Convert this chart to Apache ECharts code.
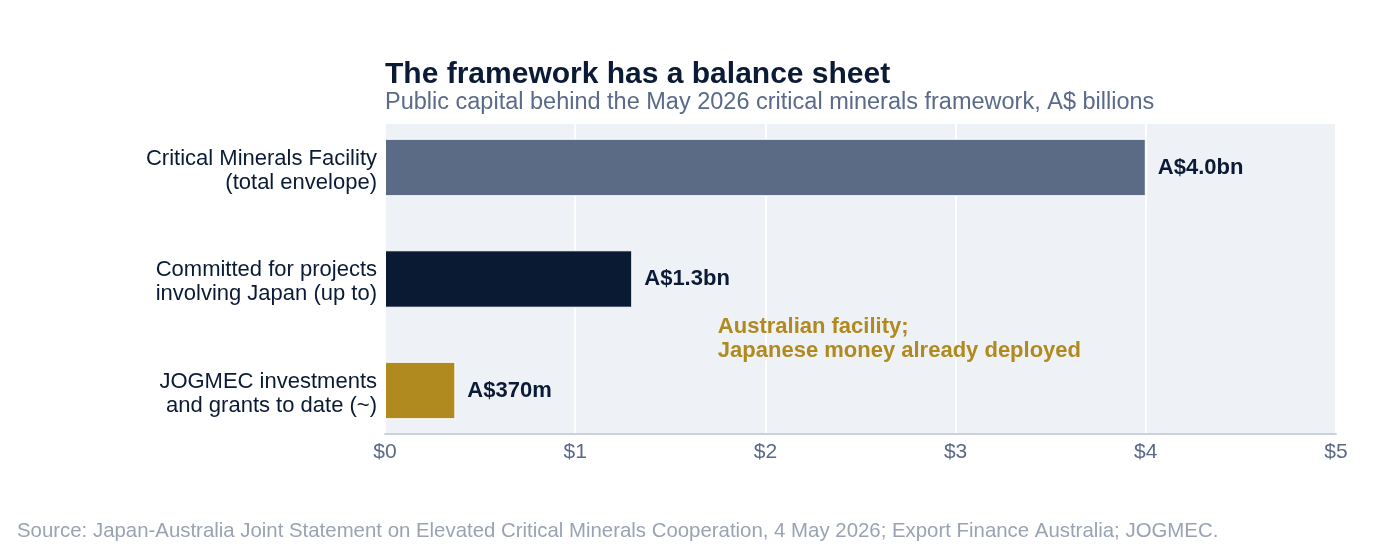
<!DOCTYPE html>
<html><head><meta charset="utf-8">
<script src="https://cdn.jsdelivr.net/npm/echarts@6/dist/echarts.min.js"></script>
<style>html,body{margin:0;padding:0;background:#fff}#c{width:1400px;height:553px}</style>
</head><body><div id="c"></div>
<script>
const categories = ["Critical Minerals Facility\n(total envelope)", "Committed for projects\ninvolving Japan (up to)", "JOGMEC investments\nand grants to date (~)"];
const values = [4.0, 1.3, 0.37];
const valueLabels = ["A$4.0bn", "A$1.3bn", "A$370m"];
const barColors = ["#5b6a85", "#0b1a33", "#b08a1e"];
const tickLabels = ["$0", "$1", "$2", "$3", "$4", "$5"];
const annotation = "Australian facility;\nJapanese money already deployed";
const annotationX = 1.75;

const chart = echarts.init(document.getElementById('c'));
const font = "'Liberation Sans', Arial, sans-serif";
chart.setOption({
  animation: false,
  textStyle: { fontFamily: font },
  title: {
    text: "The framework has a balance sheet",
    subtext: "Public capital behind the May 2026 critical minerals framework, A$ billions",
    left: 385, top: 60, itemGap: 1, padding: 0,
    textStyle: { fontFamily: font, fontSize: 30, fontWeight: 'bold', color: '#0b1a35' },
    subtextStyle: { fontFamily: font, fontSize: 23.5, color: '#5a6a88' }
  },
  grid: [
    { left: 385, right: 64, top: 124, bottom: 119, show: true, backgroundColor: '#eef1f6', borderWidth: 0 },
    { left: 385, right: 64, top: 111.75, bottom: 106.75, show: false }
  ],
  xAxis: [{
    gridIndex: 0, type: 'value', min: 0, max: 5, interval: 1,
    axisLine: { show: true, onZero: false, lineStyle: { color: '#cbd2dc', width: 2 } },
    axisTick: { show: false },
    splitLine: { show: true, lineStyle: { color: '#ffffff', width: 2 } },
    axisLabel: { fontFamily: font, fontSize: 21, color: '#5a6a88', margin: 8, formatter: (v) => tickLabels[Math.round(v)] }
  }, {
    gridIndex: 1, type: 'value', min: 0, max: 5, interval: 1, show: false
  }],
  yAxis: [{
    gridIndex: 0, type: 'value', min: 0, max: 1, show: false
  }, {
    gridIndex: 1, type: 'category', data: categories, inverse: true,
    axisLine: { show: false },
    axisTick: { show: false },
    axisLabel: {
      fontFamily: font, fontSize: 22, color: '#0b1a35', lineHeight: 24, margin: 8,
      formatter: (v) => '{s| }\n' + v.split('\n').map(t => '{a|' + t + '}').join('\n'),
      rich: {
        s: { fontSize: 1, lineHeight: 6 },
        a: { fontFamily: font, fontSize: 22, color: '#0b1a35', lineHeight: 24, align: 'right' }
      }
    }
  }],
  series: [{
    type: 'bar', xAxisIndex: 1, yAxisIndex: 1,
    barWidth: '51.5%',
    data: values.map((v, i) => ({ value: v, itemStyle: { color: barColors[i] } })),
    itemStyle: { borderColor: '#ffffff', borderWidth: 1 },
    label: {
      show: true, position: 'right', distance: 12,
      fontFamily: font, fontSize: 22, fontWeight: 'bold', color: '#0b1a35',
      formatter: (p) => valueLabels[p.dataIndex]
    }
  }]
});
const ax = chart.convertToPixel({ xAxisIndex: 0 }, annotationX);
chart.setOption({
  graphic: [{
    type: 'text', left: ax, top: 315,
    style: { text: annotation, fontFamily: font, fontSize: 22, fontWeight: 'bold', fill: '#b08a1e', lineHeight: 24 }
  }, {
    type: 'text', left: 17, top: 521,
    style: { text: "Source: Japan-Australia Joint Statement on Elevated Critical Minerals Cooperation, 4 May 2026; Export Finance Australia; JOGMEC.", fontFamily: font, fontSize: 20.4, fill: '#9aa3b4' }
  }]
});
</script></body></html>
